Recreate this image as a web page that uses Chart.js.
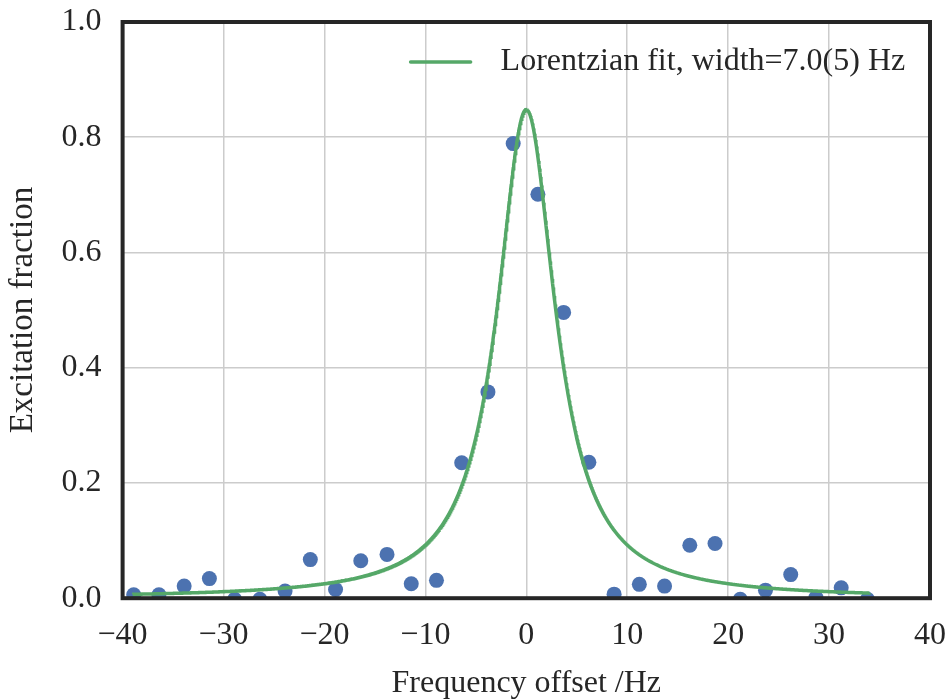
<!DOCTYPE html>
<html>
<head>
<meta charset="utf-8">
<script src="https://cdn.jsdelivr.net/npm/chart.js@4/dist/chart.umd.min.js"></script>
<style>
html,body{margin:0;padding:0;background:#fff;}
#wrap{width:949px;height:699px;}
</style>
</head>
<body>
<div id="wrap"><canvas id="c" width="949" height="699"></canvas></div>
<script>
// Measured data points
const freqOffsets = [-38.9, -36.4, -33.9, -31.4, -28.9, -26.4, -23.9, -21.4, -18.9, -16.4, -13.8, -11.4, -8.9, -6.4, -3.8, -1.3, 1.15, 3.7, 6.2, 8.7, 11.2, 13.7, 16.2, 18.7, 21.2, 23.7, 26.2, 28.7, 31.2, 33.8];
const excitation  = [0.006, 0.006, 0.021, 0.034, -0.002, -0.002, 0.0125, 0.067, 0.015, 0.065, 0.076, 0.025, 0.031, 0.235, 0.358, 0.789, 0.701, 0.496, 0.236, 0.007, 0.024, 0.021, 0.092, 0.095, -0.002, 0.014, 0.041, 0.001, 0.018, -0.002];
const fitAmplitude = 0.848;
const fitCenter = 0.0;
const fitWidth = 7.0;      // FWHM in Hz
const fitRange = [-39, 34];
const fitLabel = "Lorentzian fit, width=7.0(5) Hz";
const xTicks = [-40, -30, -20, -10, 0, 10, 20, 30, 40];
const yTicks = [0.0, 0.2, 0.4, 0.6, 0.8, 1.0];

const hw = fitWidth / 2;
const fitPoints = [];
for (let x = fitRange[0]; x <= fitRange[1] + 1e-9; x += 0.05) {
  fitPoints.push({x: x, y: fitAmplitude * hw * hw / ((x - fitCenter) ** 2 + hw * hw)});
}
const dataPoints = freqOffsets.map((x, i) => ({x: x, y: excitation[i]}));

const GREEN = '#55a868';
const BLUE = '#4c72b0';
const TEXT = '#262626';
const FONT = "'Liberation Serif', 'Times New Roman', serif";

const framePlugin = {
  id: 'frame',
  afterDatasetsDraw(chart) {
    const {ctx, chartArea: a} = chart;
    ctx.save();
    ctx.strokeStyle = '#262626';
    ctx.lineWidth = 4;
    ctx.strokeRect(a.left, a.top, a.right - a.left, a.bottom - a.top);
    // legend inside
    const lx = a.left + 288, ly = a.top + 40;
    ctx.strokeStyle = GREEN;
    ctx.lineWidth = 3.5;
    ctx.lineCap = 'round';
    ctx.beginPath();
    ctx.moveTo(lx, ly);
    ctx.lineTo(lx + 60, ly);
    ctx.stroke();
    ctx.fillStyle = TEXT;
    ctx.font = '32px ' + FONT;
    ctx.textBaseline = 'middle';
    ctx.textAlign = 'left';
    ctx.fillText(chart.data.datasets[0].label, lx + 90, ly);
    ctx.restore();
  }
};

new Chart(document.getElementById('c'), {
  type: 'scatter',
  data: {
    datasets: [
      {
        label: fitLabel,
        data: fitPoints,
        showLine: true,
        borderColor: GREEN,
        borderWidth: 3.5,
        pointRadius: 0,
        pointHoverRadius: 0,
        fill: false,
        order: 0,
        clip: 0
      },
      {
        label: 'data',
        data: dataPoints,
        backgroundColor: BLUE,
        borderColor: BLUE,
        borderWidth: 0,
        pointRadius: 7.5,
        order: 1,
        clip: 0
      }
    ]
  },
  options: {
    responsive: false,
    animation: false,
    events: [],
    layout: {padding: {left: 4, right: 19, top: 22, bottom: -4}},
    plugins: {legend: {display: false}, tooltip: {enabled: false}},
    scales: {
      x: {
        type: 'linear',
        min: -40, max: 40,
        afterBuildTicks: (s) => { s.ticks = xTicks.map(v => ({value: v})); },
        afterFit: (s) => { s.paddingLeft = 0; s.paddingRight = 0; },
        grid: {color: '#cccccc', lineWidth: 1.5, drawTicks: false},
        border: {display: false},
        ticks: {
          color: TEXT,
          font: {family: FONT, size: 32},
          padding: 18,
          maxRotation: 0,
          callback: (v) => (v < 0 ? '\u2212' + Math.abs(v) : String(v))
        },
        title: {display: true, text: 'Frequency offset /Hz', color: TEXT, font: {family: FONT, size: 32}, padding: {top: -8, bottom: 0}}
      },
      y: {
        type: 'linear',
        min: 0, max: 1,
        afterBuildTicks: (s) => { s.ticks = yTicks.map(v => ({value: v})); },
        afterFit: (s) => { s.paddingTop = 0; s.paddingBottom = 0; },
        grid: {color: '#cccccc', lineWidth: 1.5, drawTicks: false},
        border: {display: false},
        ticks: {
          color: TEXT,
          font: {family: FONT, size: 32},
          padding: 21,
          callback: (v) => Number(v).toFixed(1)
        },
        title: {display: true, text: 'Excitation fraction', color: TEXT, font: {family: FONT, size: 33}, padding: {top: 0, bottom: -3}}
      }
    }
  },
  plugins: [framePlugin]
});
</script>
</body>
</html>
